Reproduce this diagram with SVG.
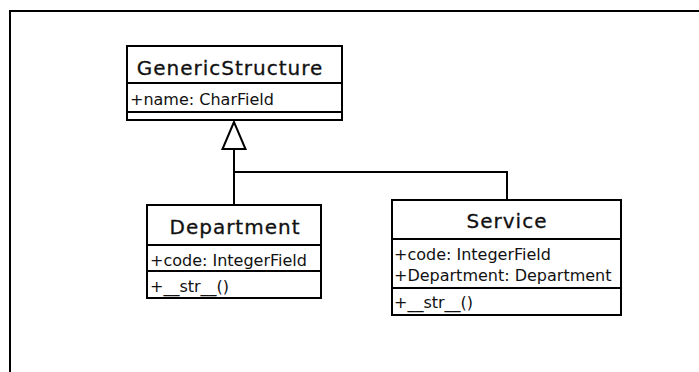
<svg xmlns="http://www.w3.org/2000/svg" width="699" height="372" viewBox="0 0 699 372">
<style>
.box{fill:#fff;stroke:#000;stroke-width:2}
.div{stroke:#000;stroke-width:2}
.title{font-family:"DejaVu Sans",sans-serif;font-size:20px;letter-spacing:1px;text-anchor:middle;fill:#111;stroke:#111;stroke-width:0.3}
.attr{font-family:"DejaVu Sans",sans-serif;font-size:16px;fill:#111}
.conn{fill:none;stroke:#000;stroke-width:2}
</style>
<rect x="0" y="0" width="699" height="372" fill="#fff"/>
<rect x="10" y="11" width="720" height="400" fill="none" stroke="#000" stroke-width="2"/>
<g id="connectors">
<polyline class="conn" points="234,149 234,205"/>
<polyline class="conn" points="234,172 507,172 507,200"/>
<polygon points="234,122 222.5,149 245.5,149" fill="#fff" stroke="#000" stroke-width="2"/>
</g>
<g id="GenericStructure">
<rect class="box" x="127" y="46" width="215" height="74"/>
<line class="div" x1="127" y1="83" x2="342" y2="83"/>
<line class="div" x1="127" y1="112" x2="342" y2="112"/>
<text class="title" x="230" y="75">GenericStructure</text>
<text class="attr" x="130" y="105">+name: CharField</text>
</g>
<g id="Department">
<rect class="box" x="147" y="205" width="174" height="93"/>
<line class="div" x1="147" y1="245" x2="321" y2="245"/>
<line class="div" x1="147" y1="271" x2="321" y2="271"/>
<text class="title" x="235" y="234">Department</text>
<text class="attr" x="150" y="266">+code: IntegerField</text>
<text class="attr" x="150" y="292">+__str__()</text>
</g>
<g id="Service">
<rect class="box" x="392" y="200" width="229" height="115"/>
<line class="div" x1="392" y1="239" x2="621" y2="239"/>
<line class="div" x1="392" y1="288" x2="621" y2="288"/>
<text class="title" x="507" y="228">Service</text>
<text class="attr" x="394" y="260">+code: IntegerField</text>
<text class="attr" x="394" y="281">+Department: Department</text>
<text class="attr" x="394" y="308">+__str__()</text>
</g>
</svg>
